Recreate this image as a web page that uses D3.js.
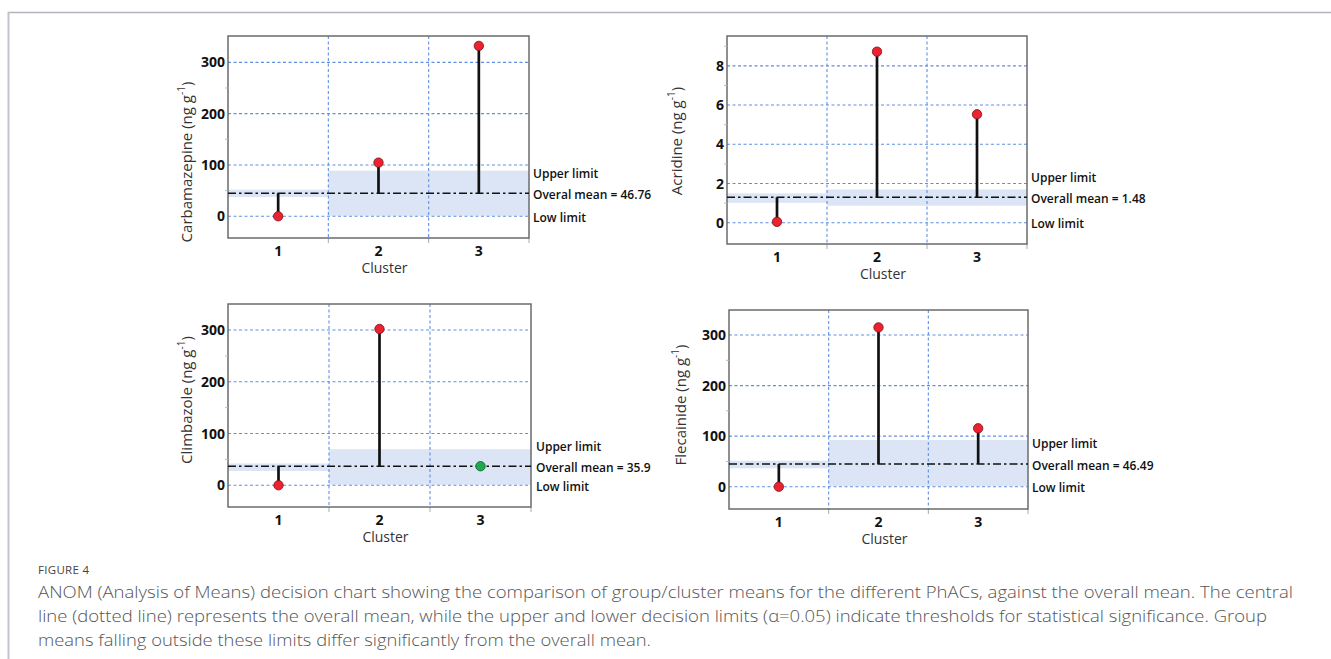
<!DOCTYPE html>
<html>
<head>
<meta charset="utf-8">
<script src="https://cdn.jsdelivr.net/npm/d3@7"></script>
<style>
  html, body { margin: 0; padding: 0; background: #fff; }
  svg { display: block; }
</style>
</head>
<body>
<svg id="chart" width="1331" height="659"></svg>
<script>
// ---------------- DATA ----------------
const clusters = ["1", "2", "3"];
const compounds = ["Carbamazepine", "Acridine", "Climbazole", "Flecainide"];
const meanLabels = ["Overal mean = 46.76", "Overall mean = 1.48", "Overall mean = 35.9", "Overall mean = 46.49"];
const clusterMeans = [
  [0, 104.6, 332],
  [0.05, 8.72, 5.53],
  [0, 302, 36.8],
  [0, 315, 115.5]
];
const overallMeans = [44.8, 1.3, 36.8, 44.9];
const upperLimits = [
  [52, 89, 89],
  [1.5, 1.7, 1.7],
  [42, 69.7, 69.7],
  [51.4, 92.4, 92.4]
];
const lowerLimits = [
  [37.6, 1, 1],
  [1.02, 0.87, 0.87],
  [27.7, 1, 1],
  [36.4, 1, 1]
];
// significant (outside limits) -> red, otherwise green
const significant = [
  [true, true, true],
  [true, true, true],
  [true, true, false],
  [true, true, true]
];
const yTicks = [
  [0, 100, 200, 300],
  [0, 2, 4, 6, 8],
  [0, 100, 200, 300],
  [0, 100, 200, 300]
];
const yMinorTicks = [
  [-50, 50, 150, 250, 350],
  [-1, 1, 3, 5, 7, 9],
  [-50, 50, 150, 250, 350],
  [-50, 50, 150, 250, 350]
];
const yDomains = [
  [-42.3, 351.3],
  [-1.08, 9.52],
  [-42, 350.3],
  [-44.1, 349.5]
];
const xTitle = "Cluster";
const limitLabels = ["Upper limit", "Low limit"];
const figureLabel = "FIGURE 4";
const captionLines = [
  "ANOM (Analysis of Means) decision chart showing the comparison of group/cluster means for the different PhACs, against the overall mean. The central",
  "line (dotted line) represents the overall mean, while the upper and lower decision limits (\u03b1=0.05) indicate thresholds for statistical significance. Group",
  "means falling outside these limits differ significantly from the overall mean."
];

// ---------------- LAYOUT ----------------
const svg = d3.select("#chart");
const boxes = [
  { x0: 228, x1: 529, y0: 36, y1: 238, titleX: 187, titleY: 162, labX: 533 },
  { x0: 727, x1: 1027, y0: 36, y1: 244, titleX: 677, titleY: 141, labX: 1031 },
  { x0: 228, x1: 531, y0: 304, y1: 507, titleX: 187, titleY: 400, labX: 536 },
  { x0: 729, x1: 1028, y0: 310, y1: 509, titleX: 681, titleY: 405, labX: 1032 }
];

const gridColor = "#5f8fe3";
const bandColor = "#dbe5f6";
const frameColor = "#6b6b6b";
const font = "'Open Sans', 'Segoe UI', sans-serif";

// page frame
svg.append("line").attr("x1", 8).attr("x2", 1331).attr("y1", 12.5).attr("y2", 12.5)
  .attr("stroke", "#b3b3bb").attr("stroke-width", 1.5);
svg.append("line").attr("x1", 8.5).attr("x2", 8.5).attr("y1", 12).attr("y2", 659)
  .attr("stroke", "#c4c4cc").attr("stroke-width", 2);

compounds.forEach((name, i) => {
  const b = boxes[i];
  const g = svg.append("g");
  const x = d3.scaleBand().domain(clusters).range([b.x0, b.x1]).padding(0);
  const y = d3.scaleLinear().domain(yDomains[i]).range([b.y1, b.y0]);
  const bw = x.bandwidth();

  // limit bands
  clusters.forEach((c, j) => {
    const top = y(upperLimits[i][j]), bot = y(lowerLimits[i][j]);
    g.append("rect")
      .attr("x", x(c)).attr("width", bw)
      .attr("y", top).attr("height", bot - top)
      .attr("fill", bandColor);
  });

  // horizontal grid
  g.selectAll(".hg").data(yTicks[i]).join("line")
    .attr("x1", b.x0).attr("x2", b.x1)
    .attr("y1", d => y(d)).attr("y2", d => y(d))
    .attr("stroke", gridColor).attr("stroke-width", 1.1)
    .attr("stroke-dasharray", "3,2.5");

  // vertical dividers (extending below axis as ticks)
  const dividers = clusters.slice(1).map(c => x(c));
  g.selectAll(".vg").data(dividers).join("line")
    .attr("x1", d => d).attr("x2", d => d)
    .attr("y1", b.y0).attr("y2", b.y1)
    .attr("stroke", gridColor).attr("stroke-width", 1.1)
    .attr("stroke-dasharray", "3,2.5");
  g.selectAll(".bt").data(dividers.concat([b.x1])).join("line")
    .attr("x1", d => d).attr("x2", d => d)
    .attr("y1", b.y1).attr("y2", b.y1 + 5)
    .attr("stroke", "#aaa").attr("stroke-width", 1);

  // frame
  g.append("rect")
    .attr("x", b.x0).attr("y", b.y0)
    .attr("width", b.x1 - b.x0).attr("height", b.y1 - b.y0)
    .attr("fill", "none").attr("stroke", frameColor).attr("stroke-width", 1.5);

  // y axis minor ticks
  g.selectAll(".mt").data(yMinorTicks[i].filter(v => y(v) > b.y0 + 2 && y(v) < b.y1 - 2)).join("line")
    .attr("x1", b.x0 - 3).attr("x2", b.x0)
    .attr("y1", d => y(d)).attr("y2", d => y(d))
    .attr("stroke", "#bbb").attr("stroke-width", 1);

  // y tick labels
  g.selectAll(".yl").data(yTicks[i]).join("text")
    .attr("x", b.x0 - 3).attr("y", d => y(d))
    .attr("dy", "0.36em")
    .attr("text-anchor", "end")
    .attr("font-family", font).attr("font-weight", 700).attr("font-size", 14)
    .attr("fill", "#111")
    .text(d => d);

  // x tick labels
  g.selectAll(".xl").data(clusters).join("text")
    .attr("x", d => x(d) + bw / 2).attr("y", b.y1 + 13)
    .attr("dy", "0.36em")
    .attr("text-anchor", "middle")
    .attr("font-family", font).attr("font-weight", 700).attr("font-size", 14)
    .attr("fill", "#111")
    .text(d => d);

  // x title
  g.append("text")
    .attr("x", (b.x0 + b.x1) / 2 + 6).attr("y", b.y1 + 30)
    .attr("dy", "0.36em")
    .attr("text-anchor", "middle")
    .attr("font-family", font).attr("font-size", 14)
    .attr("fill", "#333")
    .text(xTitle);

  // y title
  const yt = g.append("text")
    .attr("transform", `translate(${b.titleX},${b.titleY}) rotate(-90)`)
    .attr("dy", "0.36em")
    .attr("text-anchor", "middle")
    .attr("font-family", font).attr("font-size", 15)
    .attr("fill", "#333");
  yt.append("tspan").text(name + " (ng g");
  yt.append("tspan").attr("font-size", 10).attr("dy", "-0.7em").text("-1");
  yt.append("tspan").attr("dy", "0.45em").text(")");

  // mean line
  const ym = y(overallMeans[i]);
  g.append("line")
    .attr("x1", b.x0).attr("x2", b.x1)
    .attr("y1", ym).attr("y2", ym)
    .attr("stroke", "#111").attr("stroke-width", 1.6)
    .attr("stroke-dasharray", "8,3,2.5,3");

  // stems and points
  clusters.forEach((c, j) => {
    const cx = x(c) + bw / 2;
    const v = clusterMeans[i][j];
    g.append("line")
      .attr("x1", cx).attr("x2", cx)
      .attr("y1", ym).attr("y2", y(v))
      .attr("stroke", "#111").attr("stroke-width", 2.7);
    g.append("circle")
      .attr("cx", cx).attr("cy", y(v)).attr("r", 4.7)
      .attr("fill", significant[i][j] ? "#ec2230" : "#1faa4f")
      .attr("stroke", significant[i][j] ? "#7a1218" : "#0d5a28")
      .attr("stroke-width", 0.8);
  });

  // limit labels
  const labStyle = sel => sel
    .attr("font-family", font).attr("font-weight", 600).attr("font-size", 12)
    .attr("fill", "#111").attr("dy", "0.36em");
  labStyle(g.append("text").attr("x", b.labX).attr("y", ym - 20).text(limitLabels[0]));
  labStyle(g.append("text").attr("x", b.labX).attr("y", ym + 1.5).text(meanLabels[i]));
  labStyle(g.append("text").attr("x", b.labX).attr("y", y(0) + 1).text(limitLabels[1]));
});

// caption
svg.append("text")
  .attr("x", 38).attr("y", 574)
  .attr("font-family", font).attr("font-size", 11.5)
  .attr("fill", "#444").attr("letter-spacing", "0.3")
  .text(figureLabel);
const capWidths = [1255, 1229, 613];
const capBaselines = [598, 622, 646];
captionLines.forEach((t, k) => {
  svg.append("text")
    .attr("x", 38).attr("y", capBaselines[k])
    .attr("font-family", font).attr("font-size", 15.5).attr("font-weight", 300)
    .attr("fill", "#555")
    .attr("textLength", capWidths[k]).attr("lengthAdjust", "spacingAndGlyphs")
    .text(t);
});
</script>
</body>
</html>
